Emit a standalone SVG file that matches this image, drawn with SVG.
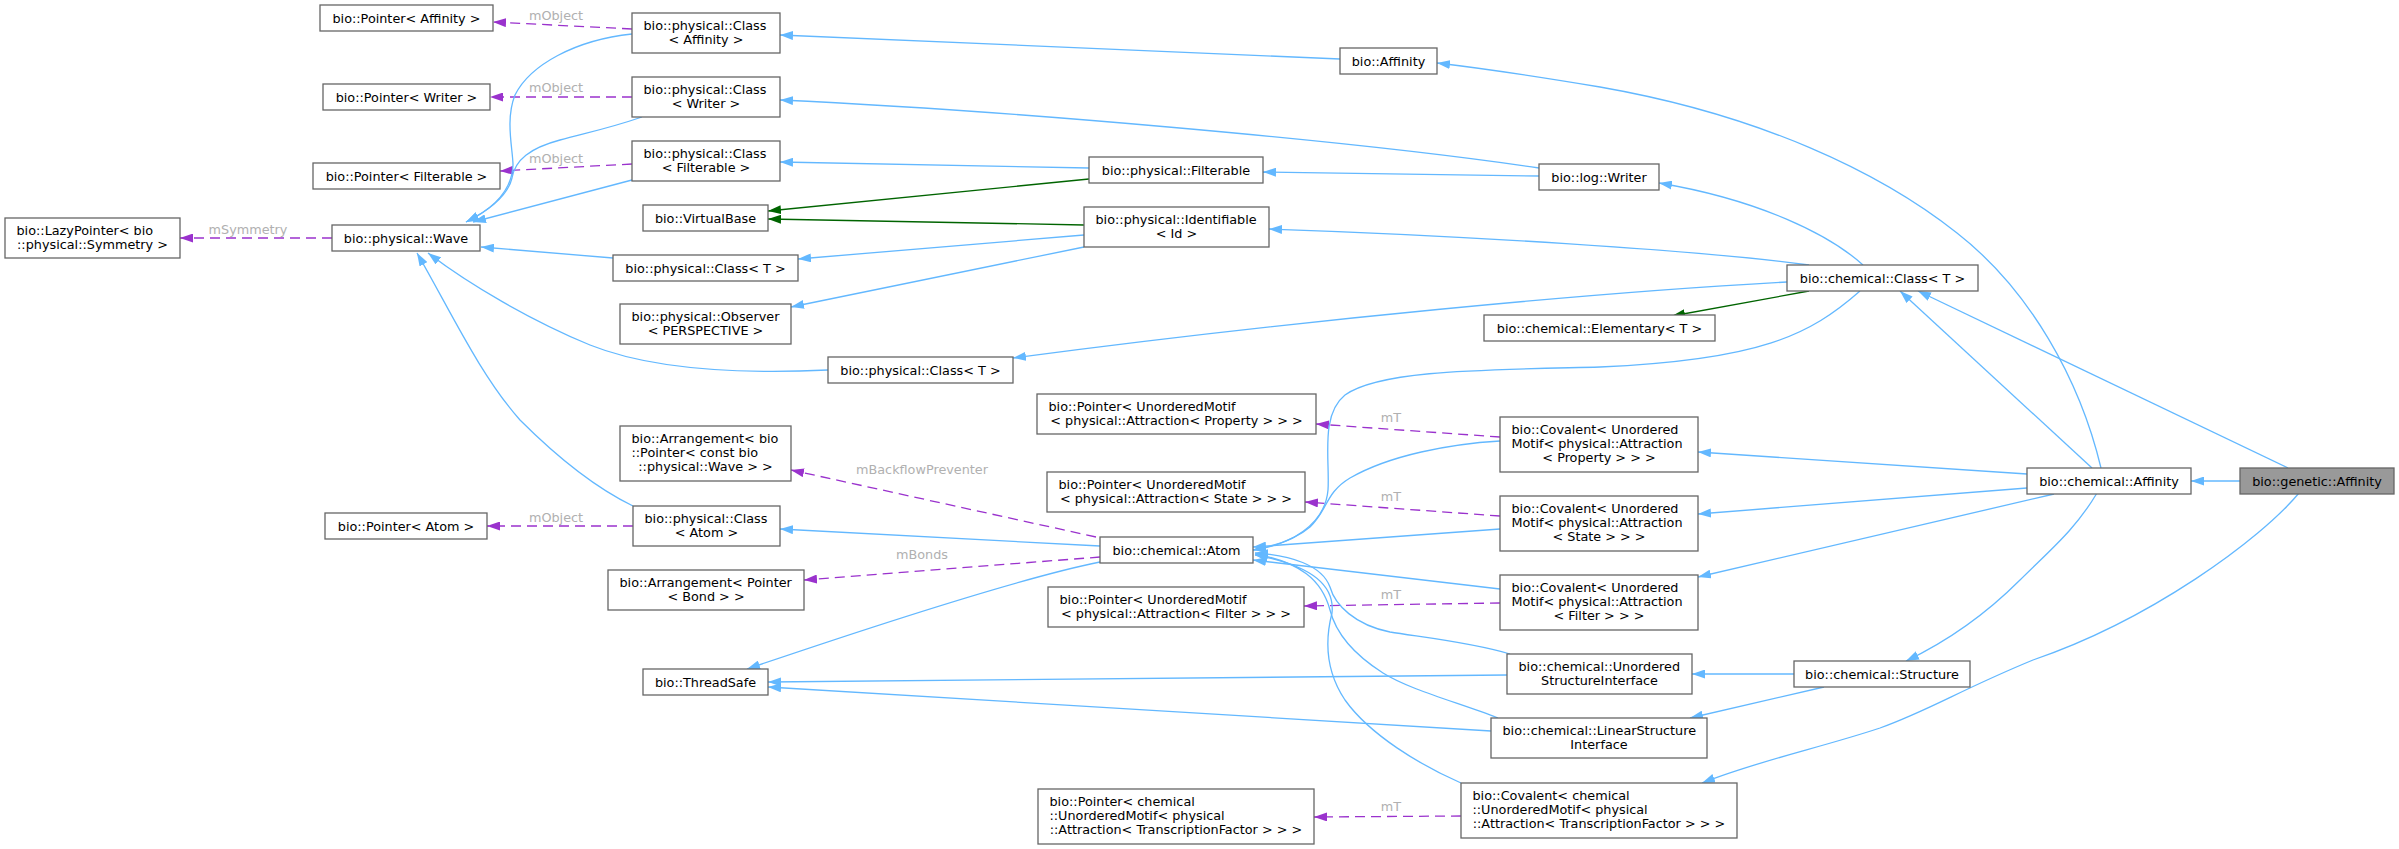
<svg xmlns="http://www.w3.org/2000/svg" width="2399" height="849" viewBox="0 0 2399 849">
<style>
.n rect{fill:#ffffff;stroke:#666666;stroke-width:1.3}
.n text{font-family:"DejaVu Sans",sans-serif;font-size:12.8px;fill:#000000}
.m{text-anchor:middle}
.s{text-anchor:start}
.b{fill:none;stroke:#63b8ff;stroke-width:1.3;marker-end:url(#ab)}
.p{fill:none;stroke:#9a32cd;stroke-width:1.3;stroke-dasharray:10,6;marker-end:url(#ap)}
.g{fill:none;stroke:#006400;stroke-width:1.3;marker-end:url(#ag)}
.lbl{font-family:"DejaVu Sans",sans-serif;font-size:12.8px;fill:#b0b0b0;text-anchor:middle}
</style>
<defs>
<marker id="ab" viewBox="0 0 13 9" refX="13" refY="4.5" markerWidth="13" markerHeight="9" markerUnits="userSpaceOnUse" orient="auto"><path d="M0,0 L13,4.5 L0,9 z" fill="#63b8ff"/></marker>
<marker id="ap" viewBox="0 0 13 9" refX="13" refY="4.5" markerWidth="13" markerHeight="9" markerUnits="userSpaceOnUse" orient="auto"><path d="M0,0 L13,4.5 L0,9 z" fill="#9a32cd"/></marker>
<marker id="ag" viewBox="0 0 13 9" refX="13" refY="4.5" markerWidth="13" markerHeight="9" markerUnits="userSpaceOnUse" orient="auto"><path d="M0,0 L13,4.5 L0,9 z" fill="#006400"/></marker>
</defs>
<rect x="0" y="0" width="2399" height="849" fill="#ffffff"/>
<g id="connectors">
<path class="p" d="M632,29 L493,22"/>
<path class="p" d="M632,97 L490,97"/>
<path class="p" d="M632,164 L500,171"/>
<path class="p" d="M332,238 L180,238"/>
<path class="p" d="M633,526 L487,526"/>
<path class="p" d="M1096,537 L791,470"/>
<path class="p" d="M1100,557 L804,580"/>
<path class="p" d="M1500,437 L1316,424"/>
<path class="p" d="M1500,516 L1305,502"/>
<path class="p" d="M1500,603 L1304,606"/>
<path class="p" d="M1461,816 L1314,817"/>
<path class="b" d="M632,34 C575,40 530,65 515,95 C505,120 513,150 513,165 C512,190 495,208 466,222"/>
<path class="b" d="M642,117 C610,128 590,132 560,140 C530,148 515,160 512,178 C508,195 490,210 466,222"/>
<path class="b" d="M632,180 L473,222"/>
<path class="b" d="M613,258 L481,247"/>
<path class="b" d="M828,370 C720,375 640,365 590,345 C530,320 470,285 428,253"/>
<path class="b" d="M633,506 C600,490 560,460 520,420 C480,375 450,310 417,253"/>
<path class="b" d="M1340,59 L780,35"/>
<path class="b" d="M1089,168 L780,162"/>
<path class="b" d="M1539,168 C1350,140 1000,110 780,100"/>
<path class="b" d="M1539,176 L1263,172"/>
<path class="b" d="M1084,235 L798,259"/>
<path class="b" d="M1084,247 L791,307"/>
<path class="b" d="M1863,265 C1830,235 1760,200 1659,183"/>
<path class="b" d="M1809,265 C1700,250 1450,235 1269,229"/>
<path class="b" d="M1787,282 C1600,292 1300,320 1013,358"/>
<path class="b" d="M1860,291 C1810,335 1760,360 1600,367 C1480,370 1380,370 1345,395 C1320,415 1330,460 1328,490 C1325,525 1290,545 1253,550"/>
<path class="b" d="M2101,468 C2080,380 2030,290 1957,233 C1880,172 1760,115 1600,87 C1540,77 1480,68 1437,63"/>
<path class="b" d="M2092,468 L1900,291"/>
<path class="b" d="M2288,468 L1918,291"/>
<path class="b" d="M2240,481 L2191,481"/>
<path class="b" d="M2027,474 L1698,452"/>
<path class="b" d="M2027,488 L1698,514"/>
<path class="b" d="M2054,494 L1698,577"/>
<path class="b" d="M2097,493 C2075,530 2050,550 2020,580 C1990,610 1950,640 1906,661"/>
<path class="b" d="M2299,493 C2260,540 2150,620 2033,660 C1960,690 1930,710 1880,728 C1820,748 1760,760 1702,783"/>
<path class="b" d="M1794,674 L1692,674"/>
<path class="b" d="M1824,687 L1690,718"/>
<path class="b" d="M1100,546 L780,529"/>
<path class="b" d="M1100,562 C1050,572 950,600 747,669"/>
<path class="b" d="M1507,675 L768,682"/>
<path class="b" d="M1491,731 L768,687"/>
<path class="b" d="M1500,441 C1450,444 1390,455 1350,478 C1325,493 1328,510 1310,527 C1295,540 1275,546 1253,550"/>
<path class="b" d="M1500,529 L1253,547"/>
<path class="b" d="M1500,589 L1253,560"/>
<path class="b" d="M1510,654 C1470,642 1420,637 1390,632 C1355,625 1335,605 1330,587 C1322,565 1290,555 1255,553"/>
<path class="b" d="M1498,718 C1460,703 1410,690 1383,673 C1350,652 1335,630 1330,610 C1322,580 1300,562 1255,554"/>
<path class="b" d="M1461,783 C1420,765 1370,735 1345,700 C1325,670 1325,640 1332,613 C1335,585 1310,565 1255,555"/>
<path class="g" d="M1089,179 L768,211"/>
<path class="g" d="M1084,225 L768,219"/>
<path class="g" d="M1809,291 L1672,316"/>
<text class="lbl" x="556" y="20">mObject</text>
<text class="lbl" x="556" y="92">mObject</text>
<text class="lbl" x="556" y="163">mObject</text>
<text class="lbl" x="248" y="234">mSymmetry</text>
<text class="lbl" x="556" y="522">mObject</text>
<text class="lbl" x="922" y="474">mBackflowPreventer</text>
<text class="lbl" x="922" y="559">mBonds</text>
<text class="lbl" x="1391" y="422">mT</text>
<text class="lbl" x="1391" y="501">mT</text>
<text class="lbl" x="1391" y="599">mT</text>
<text class="lbl" x="1391" y="811">mT</text>
</g>
<g id="ptr_aff" class="n"><rect x="320" y="5" width="173" height="26"/><text class="m" x="406.5" y="22.5">bio::Pointer&lt; Affinity &gt;</text></g>
<g id="cls_aff" class="n"><rect x="632" y="13" width="148" height="40"/><text class="s" x="643.5" y="29.5">bio::physical::Class</text><text class="m" x="706" y="43.5">&lt; Affinity &gt;</text></g>
<g id="ptr_wri" class="n"><rect x="323" y="84" width="167" height="26"/><text class="m" x="406.5" y="101.5">bio::Pointer&lt; Writer &gt;</text></g>
<g id="cls_wri" class="n"><rect x="632" y="77" width="148" height="40"/><text class="s" x="643.5" y="93.5">bio::physical::Class</text><text class="m" x="706" y="107.5">&lt; Writer &gt;</text></g>
<g id="ptr_fil" class="n"><rect x="313" y="163" width="187" height="26"/><text class="m" x="406.5" y="180.5">bio::Pointer&lt; Filterable &gt;</text></g>
<g id="cls_fil" class="n"><rect x="632" y="141" width="148" height="40"/><text class="s" x="643.5" y="157.5">bio::physical::Class</text><text class="m" x="706" y="171.5">&lt; Filterable &gt;</text></g>
<g id="vbase" class="n"><rect x="643" y="205" width="125" height="26"/><text class="m" x="705.5" y="222.5">bio::VirtualBase</text></g>
<g id="lazy" class="n"><rect x="5" y="218" width="175" height="40"/><text class="s" x="16.5" y="234.5">bio::LazyPointer&lt; bio</text><text class="m" x="92.5" y="248.5">::physical::Symmetry &gt;</text></g>
<g id="wave" class="n"><rect x="332" y="225" width="148" height="26"/><text class="m" x="406" y="242.5">bio::physical::Wave</text></g>
<g id="pcls_t1" class="n"><rect x="613" y="255" width="185" height="26"/><text class="m" x="705.5" y="272.5">bio::physical::Class&lt; T &gt;</text></g>
<g id="obs" class="n"><rect x="620" y="304" width="171" height="40"/><text class="s" x="631.5" y="320.5">bio::physical::Observer</text><text class="m" x="705.5" y="334.5">&lt; PERSPECTIVE &gt;</text></g>
<g id="arr_wave" class="n"><rect x="620" y="426" width="171" height="55"/><text class="s" x="631.5" y="443">bio::Arrangement&lt; bio</text><text class="s" x="631.5" y="457">::Pointer&lt; const bio</text><text class="m" x="705.5" y="471">::physical::Wave &gt; &gt;</text></g>
<g id="cls_atom" class="n"><rect x="633" y="506" width="147" height="40"/><text class="s" x="644.5" y="522.5">bio::physical::Class</text><text class="m" x="706.5" y="536.5">&lt; Atom &gt;</text></g>
<g id="ptr_atom" class="n"><rect x="325" y="513" width="162" height="26"/><text class="m" x="406" y="530.5">bio::Pointer&lt; Atom &gt;</text></g>
<g id="arr_bond" class="n"><rect x="608" y="570" width="196" height="40"/><text class="s" x="619.5" y="586.5">bio::Arrangement&lt; Pointer</text><text class="m" x="706" y="600.5">&lt; Bond &gt; &gt;</text></g>
<g id="threadsafe" class="n"><rect x="643" y="669" width="125" height="26"/><text class="m" x="705.5" y="686.5">bio::ThreadSafe</text></g>
<g id="affinity" class="n"><rect x="1340" y="48" width="97" height="26"/><text class="m" x="1388.5" y="65.5">bio::Affinity</text></g>
<g id="filterable" class="n"><rect x="1089" y="157" width="174" height="26"/><text class="m" x="1176" y="174.5">bio::physical::Filterable</text></g>
<g id="ident" class="n"><rect x="1084" y="207" width="185" height="40"/><text class="s" x="1095.5" y="223.5">bio::physical::Identifiable</text><text class="m" x="1176.5" y="237.5">&lt; Id &gt;</text></g>
<g id="writer" class="n"><rect x="1539" y="164" width="120" height="26"/><text class="m" x="1599" y="181.5">bio::log::Writer</text></g>
<g id="chem_cls" class="n"><rect x="1787" y="265" width="191" height="26"/><text class="m" x="1882.5" y="282.5">bio::chemical::Class&lt; T &gt;</text></g>
<g id="elem" class="n"><rect x="1484" y="315" width="231" height="26"/><text class="m" x="1599.5" y="332.5">bio::chemical::Elementary&lt; T &gt;</text></g>
<g id="pcls_t2" class="n"><rect x="828" y="357" width="185" height="26"/><text class="m" x="920.5" y="374.5">bio::physical::Class&lt; T &gt;</text></g>
<g id="ptr_prop" class="n"><rect x="1037" y="394" width="279" height="40"/><text class="s" x="1048.5" y="410.5">bio::Pointer&lt; UnorderedMotif</text><text class="m" x="1176.5" y="424.5">&lt; physical::Attraction&lt; Property &gt; &gt; &gt;</text></g>
<g id="ptr_state" class="n"><rect x="1047" y="472" width="258" height="40"/><text class="s" x="1058.5" y="488.5">bio::Pointer&lt; UnorderedMotif</text><text class="m" x="1176" y="502.5">&lt; physical::Attraction&lt; State &gt; &gt; &gt;</text></g>
<g id="atom" class="n"><rect x="1100" y="537" width="153" height="26"/><text class="m" x="1176.5" y="554.5">bio::chemical::Atom</text></g>
<g id="ptr_filter" class="n"><rect x="1048" y="587" width="256" height="40"/><text class="s" x="1059.5" y="603.5">bio::Pointer&lt; UnorderedMotif</text><text class="m" x="1176" y="617.5">&lt; physical::Attraction&lt; Filter &gt; &gt; &gt;</text></g>
<g id="ptr_tf" class="n"><rect x="1038" y="789" width="276" height="55"/><text class="s" x="1049.5" y="806">bio::Pointer&lt; chemical</text><text class="s" x="1049.5" y="820">::UnorderedMotif&lt; physical</text><text class="m" x="1176" y="834">::Attraction&lt; TranscriptionFactor &gt; &gt; &gt;</text></g>
<g id="cov_prop" class="n"><rect x="1500" y="417" width="198" height="55"/><text class="s" x="1511.5" y="434">bio::Covalent&lt; Unordered</text><text class="s" x="1511.5" y="448">Motif&lt; physical::Attraction</text><text class="m" x="1599" y="462">&lt; Property &gt; &gt; &gt;</text></g>
<g id="cov_state" class="n"><rect x="1500" y="496" width="198" height="55"/><text class="s" x="1511.5" y="513">bio::Covalent&lt; Unordered</text><text class="s" x="1511.5" y="527">Motif&lt; physical::Attraction</text><text class="m" x="1599" y="541">&lt; State &gt; &gt; &gt;</text></g>
<g id="cov_filter" class="n"><rect x="1500" y="575" width="198" height="55"/><text class="s" x="1511.5" y="592">bio::Covalent&lt; Unordered</text><text class="s" x="1511.5" y="606">Motif&lt; physical::Attraction</text><text class="m" x="1599" y="620">&lt; Filter &gt; &gt; &gt;</text></g>
<g id="unord" class="n"><rect x="1507" y="654" width="185" height="40"/><text class="s" x="1518.5" y="670.5">bio::chemical::Unordered</text><text class="m" x="1599.5" y="684.5">StructureInterface</text></g>
<g id="linear" class="n"><rect x="1491" y="718" width="216" height="40"/><text class="s" x="1502.5" y="734.5">bio::chemical::LinearStructure</text><text class="m" x="1599" y="748.5">Interface</text></g>
<g id="cov_tf" class="n"><rect x="1461" y="783" width="276" height="55"/><text class="s" x="1472.5" y="800">bio::Covalent&lt; chemical</text><text class="s" x="1472.5" y="814">::UnorderedMotif&lt; physical</text><text class="m" x="1599" y="828">::Attraction&lt; TranscriptionFactor &gt; &gt; &gt;</text></g>
<g id="chem_aff" class="n"><rect x="2027" y="468" width="164" height="26"/><text class="m" x="2109" y="485.5">bio::chemical::Affinity</text></g>
<g id="gen_aff" class="n"><rect x="2240" y="468" width="154" height="26" style="fill:#999999"/><text class="m" x="2317" y="485.5">bio::genetic::Affinity</text></g>
<g id="struct" class="n"><rect x="1794" y="661" width="176" height="26"/><text class="m" x="1882" y="678.5">bio::chemical::Structure</text></g>
</svg>
